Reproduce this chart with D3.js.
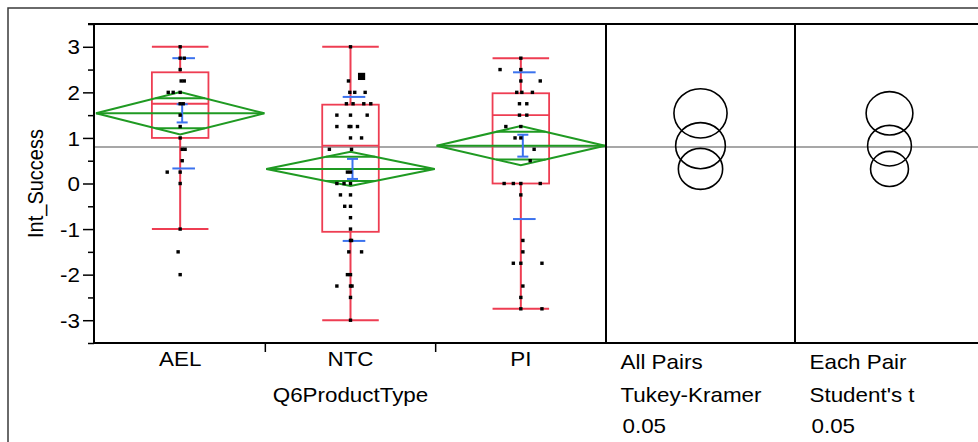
<!DOCTYPE html>
<html><head><meta charset="utf-8">
<script src="https://cdn.jsdelivr.net/npm/d3@7"></script>
<style>
html,body{margin:0;padding:0;background:#fff;}
svg{display:block;font-family:"Liberation Sans",Arial,sans-serif;}
</style></head><body>
<svg id="chart" width="978" height="442"></svg>
<script>
// ---------------- data ----------------
const categories = ["AEL", "NTC", "PI"];
const whiskerLow  = [-1, -3, -2.75];
const quartile1   = [1.0, -1.06, 0];
const medians     = [1.75, 0.83, 1.5];
const quartile3   = [2.44, 1.73, 1.98];
const whiskerHigh = [3, 3, 2.75];
const means       = [1.54, 0.32, 0.83];
const ciHalf      = [0.465, 0.375, 0.43];
const seHalf      = [0.2, 0.22, 0.24];
const stdDevs     = [1.21, 1.58, 1.61];
const grandMean   = 0.80;
const tukeyRadius   = [0.54, 0.45, 0.505];
const studentRadius = [0.475, 0.385, 0.445];
const yTicks      = [-3, -2, -1, 0, 1, 2, 3];
const yMinorTicks = [-3.5, -2.5, -1.5, -0.5, 0.5, 1.5, 2.5, 3.5];
const yTitle = "Int_Success";
const xTitle = "Q6ProductType";
const compTitles = ["All Pairs", "Each Pair"];
const compTests  = ["Tukey-Kramer", "Student's t"];
const compAlpha  = ["0.05", "0.05"];
// points: [value, jitter (fraction of band)]
const aelPoints = [[3,0],[2.75,0],[2.75,0.024],[2.5,0],[2.25,0.006],[2.25,0.024],[2,-0.07],[2,-0.041],[2,0],[1.75,0],[1.75,0.018],[1.5,0],[1.25,0],[1,0],[0.75,0.012],[0.75,0.029],[0.5,0.012],[0.25,-0.076],[0.25,0],[0,0],[-1,0],[-1.5,-0.012],[-2,0]];
const ntcPoints = [[3,0],[2.25,-0.012],[2,-0.004],[2,0.025],[2,0.086],[1.75,-0.024],[1.75,0.015],[1.75,0.078],[1.75,0.119],[1.5,-0.08],[1.5,0],[1.5,0.098],[1.25,-0.08],[1.25,-0.008],[1.25,0.002],[1.25,0.041],[1,0],[1,0.065],[0.75,-0.124],[0.75,0.006],[0.25,-0.018],[0.25,0],[0,-0.08],[0,-0.038],[0,0],[-0.25,-0.059],[-0.25,0],[-0.5,-0.034],[-0.5,0],[-0.75,0],[-1,0],[-1.25,0],[-1.25,0.006],[-1.5,-0.01],[-1.5,0.065],[-2,-0.018],[-2,0],[-2.25,-0.08],[-2.25,0],[-2.25,0.009],[-2.5,0],[-3,0]];
const piPoints = [[2.75,0],[2.5,-0.122],[2.5,0],[2.25,0],[2.25,0.114],[2,-0.024],[2,0.006],[2,0.068],[1.75,-0.008],[1.75,0.035],[1.5,-0.008],[1.5,0.035],[1.25,-0.088],[1.25,0],[1,-0.034],[1,0],[0.75,0.078],[0.5,0.055],[0,-0.098],[0,-0.044],[0,0],[0,0.114],[-0.25,0],[-1.25,0.012],[-1.5,0.012],[-1.75,-0.044],[-1.75,0],[-1.75,0.124],[-2.25,0.012],[-2.5,0],[-2.75,0],[-2.75,0.124]];
const ntcHighlight = [[2.35, 0.065]];
const groupPoints = [aelPoints, ntcPoints, piPoints];
const groupHighlights = [[], ntcHighlight, []];

// ---------------- layout ----------------
const W = 978, H = 442;
const plotTop = 24, plotBottom = 343, axisX = 94;
const SX = 1.12;       // horizontal text stretch of the source image
const CX = 1.08;       // horizontal stretch for circles
const RED = "#ee3d52", GREEN = "#1f9a22", BLUE = "#3b72ee", GRAY = "#8a8a8a";

const svg = d3.select("#chart");
const y = d3.scaleLinear().domain([-3.5, 3.5]).range([plotBottom, plotTop]);
const x = d3.scaleBand().domain(categories).range([95, 606]);
const comp = d3.scaleBand().domain(compTitles).range([606, 984]);
const bw = x.bandwidth();

// outer frame
svg.append("path").attr("d", `M8,${H} L8,8 L${W},8`).attr("fill", "none")
  .attr("stroke", "#3a3a3a").attr("stroke-width", 1.5);

// grand mean line
svg.append("line").attr("x1", axisX).attr("x2", W).attr("y1", y(grandMean)).attr("y2", y(grandMean))
  .attr("stroke", GRAY).attr("stroke-width", 1.5);

// y axis
const yAxis = svg.append("g").attr("transform", `translate(${axisX},0)`)
  .call(d3.axisLeft(y).tickValues(yTicks).tickSize(11).tickFormat(d => String(d)));
yAxis.select(".domain").remove();
yAxis.selectAll(".tick line").attr("stroke", "#000").attr("stroke-width", 1.5);
yAxis.selectAll(".tick text").attr("font-size", 20).attr("fill", "#000")
  .attr("font-family", "Liberation Sans, Arial, sans-serif")
  .attr("x", -14 / SX).attr("dy", "0.36em").attr("transform", `scale(${SX},1)`);
const yMinor = svg.append("g").attr("transform", `translate(${axisX},0)`)
  .call(d3.axisLeft(y).tickValues(yMinorTicks).tickSize(6).tickFormat(""));
yMinor.select(".domain").remove();
yMinor.selectAll(".tick line").attr("stroke", "#000").attr("stroke-width", 1.5);

svg.append("text").attr("transform", `translate(42.5,${(plotTop + plotBottom) / 2}) scale(${SX},1) rotate(-90)`)
  .attr("text-anchor", "middle").attr("font-size", 20).text(yTitle);

// x axis labels
const xAxis = svg.append("g").attr("transform", `translate(0,${plotBottom})`)
  .call(d3.axisBottom(x).tickSize(0).tickPadding(0));
xAxis.select(".domain").remove();
xAxis.selectAll(".tick text").attr("font-size", 20).attr("fill", "#000")
  .attr("font-family", "Liberation Sans, Arial, sans-serif")
  .attr("y", 23).attr("dy", 0).attr("transform", `scale(${SX},1)`);
svg.append("text").attr("transform", `translate(${x("NTC") + bw / 2},402) scale(${SX},1)`)
  .attr("text-anchor", "middle").attr("font-size", 20).text(xTitle);
// category boundary ticks
svg.selectAll(".sep").data(categories.slice(0, -1)).join("line")
  .attr("x1", d => x(d) + bw).attr("x2", d => x(d) + bw)
  .attr("y1", plotBottom).attr("y2", plotBottom + 9).attr("stroke", "#000").attr("stroke-width", 1.5);

// comparison panel labels
compTitles.forEach((t, i) => {
  const x0 = comp(t) + 14.5;
  svg.append("text").attr("transform", `translate(${x0},369) scale(${SX},1)`).attr("font-size", 20).text(t);
  svg.append("text").attr("transform", `translate(${x0},402) scale(${SX},1)`).attr("font-size", 20).text(compTests[i]);
  svg.append("text").attr("transform", `translate(${x0 + 2},432.5) scale(${SX},1)`).attr("font-size", 20).text(compAlpha[i]);
});

// ---------------- groups ----------------
categories.forEach((c, i) => {
  const cx = x(c) + bw / 2;
  const g = svg.append("g");
  const boxHalf = bw * 0.166;
  // whiskers
  g.append("line").attr("x1", cx).attr("x2", cx).attr("y1", y(whiskerHigh[i])).attr("y2", y(quartile3[i]))
    .attr("stroke", RED).attr("stroke-width", 2);
  g.append("line").attr("x1", cx).attr("x2", cx).attr("y1", y(quartile1[i])).attr("y2", y(whiskerLow[i]))
    .attr("stroke", RED).attr("stroke-width", 2);
  [whiskerHigh[i], whiskerLow[i]].forEach(v => {
    g.append("line").attr("x1", cx - boxHalf).attr("x2", cx + boxHalf).attr("y1", y(v)).attr("y2", y(v))
      .attr("stroke", RED).attr("stroke-width", 2);
  });
  // box
  g.append("rect").attr("x", cx - boxHalf).attr("width", 2 * boxHalf)
    .attr("y", y(quartile3[i])).attr("height", y(quartile1[i]) - y(quartile3[i]))
    .attr("fill", "none").attr("stroke", RED).attr("stroke-width", 1.8);
  g.append("line").attr("x1", cx - boxHalf).attr("x2", cx + boxHalf).attr("y1", y(medians[i])).attr("y2", y(medians[i]))
    .attr("stroke", RED).attr("stroke-width", 1.8);

  // means diamond
  const hw = bw / 2;
  const m = means[i], ci = ciHalf[i];
  g.append("polygon")
    .attr("points", [[cx - hw + 1, y(m)], [cx, y(m + ci)], [cx + hw - 1, y(m)], [cx, y(m - ci)]].map(p => p.join(",")).join(" "))
    .attr("fill", "none").attr("stroke", GREEN).attr("stroke-width", 2);
  g.append("line").attr("x1", cx - hw + 1).attr("x2", cx + hw - 1).attr("y1", y(m)).attr("y2", y(m))
    .attr("stroke", GREEN).attr("stroke-width", 2);
  const ov = ci / Math.SQRT2, ow = (hw - 1) * (1 - 1 / Math.SQRT2);
  [m + ov, m - ov].forEach(v => {
    g.append("line").attr("x1", cx - ow).attr("x2", cx + ow).attr("y1", y(v)).attr("y2", y(v))
      .attr("stroke", GREEN).attr("stroke-width", 2);
  });

  // std dev lines
  const sdc = cx + 3.5, sdw = 11.3;
  [m + stdDevs[i], m - stdDevs[i]].forEach(v => {
    g.append("line").attr("x1", sdc - sdw).attr("x2", sdc + sdw).attr("y1", y(v)).attr("y2", y(v))
      .attr("stroke", BLUE).attr("stroke-width", 2);
  });
  // mean error bar
  const ec = cx + 2, ew = 5.5;
  g.append("line").attr("x1", ec).attr("x2", ec).attr("y1", y(m + seHalf[i])).attr("y2", y(m - seHalf[i]))
    .attr("stroke", BLUE).attr("stroke-width", 2);
  [m + seHalf[i], m - seHalf[i]].forEach(v => {
    g.append("line").attr("x1", ec - ew).attr("x2", ec + ew).attr("y1", y(v)).attr("y2", y(v))
      .attr("stroke", BLUE).attr("stroke-width", 2);
  });

  // points
  const ps = 3.4;
  g.selectAll(".pt").data(groupPoints[i]).join("rect")
    .attr("x", d => cx + d[1] * bw - ps / 2).attr("y", d => y(d[0]) - ps / 2)
    .attr("width", ps).attr("height", ps).attr("fill", "#000");
  const hs = 7.2;
  g.selectAll(".hp").data(groupHighlights[i]).join("rect")
    .attr("x", d => cx + d[1] * bw - hs / 2).attr("y", d => y(d[0]) - hs / 2)
    .attr("width", hs).attr("height", hs).attr("fill", "#000");
});

// comparison circles
[tukeyRadius, studentRadius].forEach((radii, k) => {
  const ccx = comp(compTitles[k]) + comp.bandwidth() / 2;
  svg.selectAll(".c" + k).data(categories).join("ellipse")
    .attr("cx", ccx).attr("cy", (d, i) => y(means[i]))
    .attr("ry", (d, i) => y(0) - y(radii[i]))
    .attr("rx", (d, i) => (y(0) - y(radii[i])) * CX)
    .attr("fill", "none").attr("stroke", "#000").attr("stroke-width", 1.6);
});

// frame lines of the plot
const frame = svg.append("g").attr("stroke", "#000").attr("stroke-width", 2);
frame.append("line").attr("x1", axisX - 6).attr("x2", W).attr("y1", plotTop).attr("y2", plotTop);
frame.append("line").attr("x1", axisX - 1).attr("x2", W).attr("y1", plotBottom).attr("y2", plotBottom);
frame.append("line").attr("x1", axisX).attr("x2", axisX).attr("y1", plotTop).attr("y2", plotBottom + 1);
[comp.range()[0], comp(compTitles[1])].forEach(xx => {
  frame.append("line").attr("x1", xx).attr("x2", xx).attr("y1", plotTop).attr("y2", plotBottom);
});
</script>
</body></html>
